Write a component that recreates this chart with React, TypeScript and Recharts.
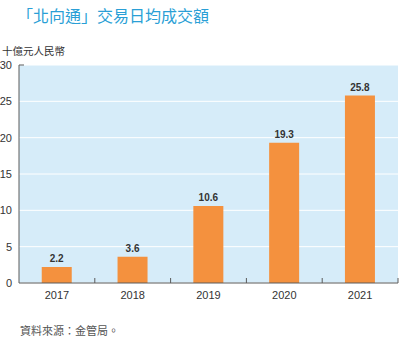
import type { FC } from 'react';
import { Bar, BarChart, CartesianGrid, LabelList, XAxis, YAxis } from 'recharts';

const years = ['2017', '2018', '2019', '2020', '2021'];
const turnover = [2.2, 3.6, 10.6, 19.3, 25.8];
const yTicks = [0, 5, 10, 15, 20, 25, 30];

const data = years.map((year, i) => ({ year, value: turnover[i] }));

const font = '"Liberation Sans", "Noto Sans CJK TC", sans-serif';
const axisGrey = '#5a5a5a';
const textGrey = '#333';

const XTick: FC<any> = ({ x, y, payload }) => {
  const edge = x + (payload?.offset ?? 0);
  return (
    <g>
      <line x1={edge} x2={edge} y1={y} y2={y - 5} stroke={axisGrey} strokeWidth={1} />
      <text x={x} y={y + 16} textAnchor="middle" fontSize={11} fill={textGrey} fontFamily={font}>
        {payload.value}
      </text>
    </g>
  );
};

const YTick: FC<any> = ({ x, y, payload }) => (
  <g>
    {payload.value === 30 && (
      <line x1={x + 7} x2={x + 12} y1={y} y2={y} stroke={axisGrey} strokeWidth={1} />
    )}
    <text x={x} y={y + 4} textAnchor="end" fontSize={11} fill={textGrey} fontFamily={font}>
      {payload.value}
    </text>
  </g>
);

const App: FC = () => {
  return (
    <div style={{ position: 'absolute', left: 0, top: 0, width: 412, height: 345, background: '#fff', fontFamily: font }}>
      <div style={{ position: 'absolute', left: 17, top: 3, fontSize: 16, color: '#2a9fd6', whiteSpace: 'nowrap' }}>
        「北向通」交易日均成交額
      </div>
      <div style={{ position: 'absolute', left: 2, top: 43, fontSize: 10.5, color: textGrey, whiteSpace: 'nowrap' }}>
        十億元人民幣
      </div>
      <BarChart
        width={412}
        height={345}
        data={data}
        margin={{ top: 65, right: 14, bottom: 61, left: 0 }}
        barCategoryGap="30%"
      >
        <CartesianGrid vertical={false} fill="#d6ecf9" stroke="#ffffff" strokeWidth={1} />
        <XAxis
          dataKey="year"
          tickLine={false}
          tickSize={0}
          tickMargin={0}
          axisLine={{ stroke: axisGrey }}
          tick={<XTick />}
          height={1}
        />
        <YAxis
          width={19}
          domain={[0, 30]}
          ticks={yTicks}
          tickLine={false}
          tickSize={0}
          tickMargin={7}
          axisLine={{ stroke: axisGrey }}
          tick={<YTick />}
        />
        <Bar dataKey="value" fill="#f4913e" isAnimationActive={false}>
          <LabelList
            dataKey="value"
            position="top"
            offset={5}
            fill={textGrey}
            fontSize={10}
            fontWeight="bold"
            fontFamily={font}
          />
        </Bar>
      </BarChart>
      <div style={{ position: 'absolute', left: 20, top: 322, fontSize: 11, color: '#555', whiteSpace: 'nowrap' }}>
        資料來源：金管局。
      </div>
    </div>
  );
};

export default App;
